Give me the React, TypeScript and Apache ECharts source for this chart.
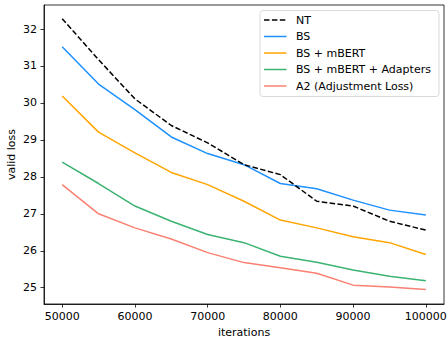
import React, { useEffect, useRef } from "react";
import * as echarts from "echarts";

const iterations = [50000, 55000, 60000, 65000, 70000, 75000, 80000, 85000, 90000, 95000, 100000];
const nt = [32.28, 31.17, 30.11, 29.39, 28.92, 28.33, 28.06, 27.34, 27.21, 26.8, 26.56];
const bs = [31.52, 30.51, 29.82, 29.08, 28.63, 28.33, 27.82, 27.68, 27.37, 27.1, 26.97];
const bsMbert = [30.19, 29.21, 28.65, 28.12, 27.79, 27.34, 26.83, 26.62, 26.38, 26.22, 25.9];
const bsMbertAdapters = [28.4, 27.82, 27.21, 26.8, 26.44, 26.22, 25.85, 25.69, 25.48, 25.31, 25.19];
const a2 = [27.79, 27.0, 26.62, 26.32, 25.95, 25.68, 25.54, 25.39, 25.07, 25.02, 24.95];
const xTicks = [50000, 60000, 70000, 80000, 90000, 100000];
const yTicks = [25, 26, 27, 28, 29, 30, 31, 32];

const seriesDefs = [
  { name: "NT", data: nt, color: "#000000", dash: [5.5, 2.4] as any },
  { name: "BS", data: bs, color: "#1E90FF", dash: "solid" as any },
  { name: "BS + mBERT", data: bsMbert, color: "#FFA500", dash: "solid" as any },
  { name: "BS + mBERT + Adapters", data: bsMbertAdapters, color: "#3CB371", dash: "solid" as any },
  { name: "A2 (Adjustment Loss)", data: a2, color: "#FA8072", dash: "solid" as any },
];

const FONT = "DejaVu Sans";
const FS = 11;

export default function App() {
  const ref = useRef<HTMLDivElement>(null);
  useEffect(() => {
    const chart = echarts.init(ref.current!, undefined, { renderer: "svg" });
    const legendTop = 10.5;
    const legendLeft = 260;
    const rowH = 16.5;
    const legendChildren: any[] = [
      {
        type: "rect",
        shape: { x: legendLeft, y: legendTop, width: 179, height: 86, r: 3 },
        style: { fill: "rgba(255,255,255,0.8)", stroke: "#d0d0d0", lineWidth: 0.8 },
      },
    ];
    seriesDefs.forEach((s, i) => {
      const cy = legendTop + 9.5 + i * rowH;
      legendChildren.push({
        type: "line",
        shape: { x1: legendLeft + 4, y1: cy, x2: legendLeft + 26.5, y2: cy },
        style: {
          stroke: s.color,
          lineWidth: 1.5,
          lineDash: Array.isArray(s.dash) ? s.dash : null,
        },
      });
      legendChildren.push({
        type: "text",
        x: legendLeft + 36,
        y: cy,
        style: {
          text: s.name,
          fontFamily: FONT,
          fontSize: FS,
          fill: "#000",
          textVerticalAlign: "middle",
          verticalAlign: "middle",
        },
      });
    });
    chart.setOption({
      animation: false,
      textStyle: { fontFamily: FONT },
      grid: {
        left: 44,
        right: 4,
        top: 5,
        bottom: 35,
        show: true,
        borderColor: "#000",
        borderWidth: 0.8,
        backgroundColor: "transparent",
        containLabel: false,
        outerBoundsMode: "none",
      },
      graphic: [{ type: "group", z: 100, children: legendChildren }],
      xAxis: {
        type: "value",
        min: 47500,
        max: 102500,
        name: "iterations",
        nameLocation: "middle",
        nameGap: 23,
        nameTextStyle: { fontFamily: FONT, fontSize: FS, color: "#000" },
        axisLine: { show: true, lineStyle: { color: "#000", width: 0.8 } },
        axisTick: { show: true, length: 3.5, lineStyle: { color: "#000", width: 0.8 }, customValues: xTicks },
        axisLabel: {
          margin: 7,
          fontFamily: FONT,
          fontSize: FS,
          color: "#000",
          customValues: xTicks,
          formatter: (v: number) => String(v),
        },
        splitLine: { show: false },
      },
      yAxis: {
        type: "value",
        min: 24.56,
        max: 32.65,
        name: "valid loss",
        nameLocation: "middle",
        nameGap: 27,
        nameMoveOverlap: false,
        nameTextStyle: { fontFamily: FONT, fontSize: FS, color: "#000" },
        axisLine: { show: true, lineStyle: { color: "#000", width: 0.8 } },
        axisTick: { show: true, length: 3.5, lineStyle: { color: "#000", width: 0.8 }, customValues: yTicks },
        axisLabel: {
          margin: 7,
          fontFamily: FONT,
          fontSize: FS,
          color: "#000",
          customValues: yTicks,
          formatter: (v: number) => String(v),
        },
        splitLine: { show: false },
      },
      series: seriesDefs.map((s, i) => ({
        name: s.name,
        type: "line",
        data: iterations.map((x, j) => [x, s.data[j]]),
        symbol: "none",
        color: s.color,
        z: i === 0 ? 10 : 5 - i,
        lineStyle: { color: s.color, width: 1.5, type: s.dash },
      })),
    });
    return () => chart.dispose();
  }, []);
  return <div ref={ref} style={{ width: 448, height: 339, position: "absolute", left: 0, top: 0 }} />;
}
